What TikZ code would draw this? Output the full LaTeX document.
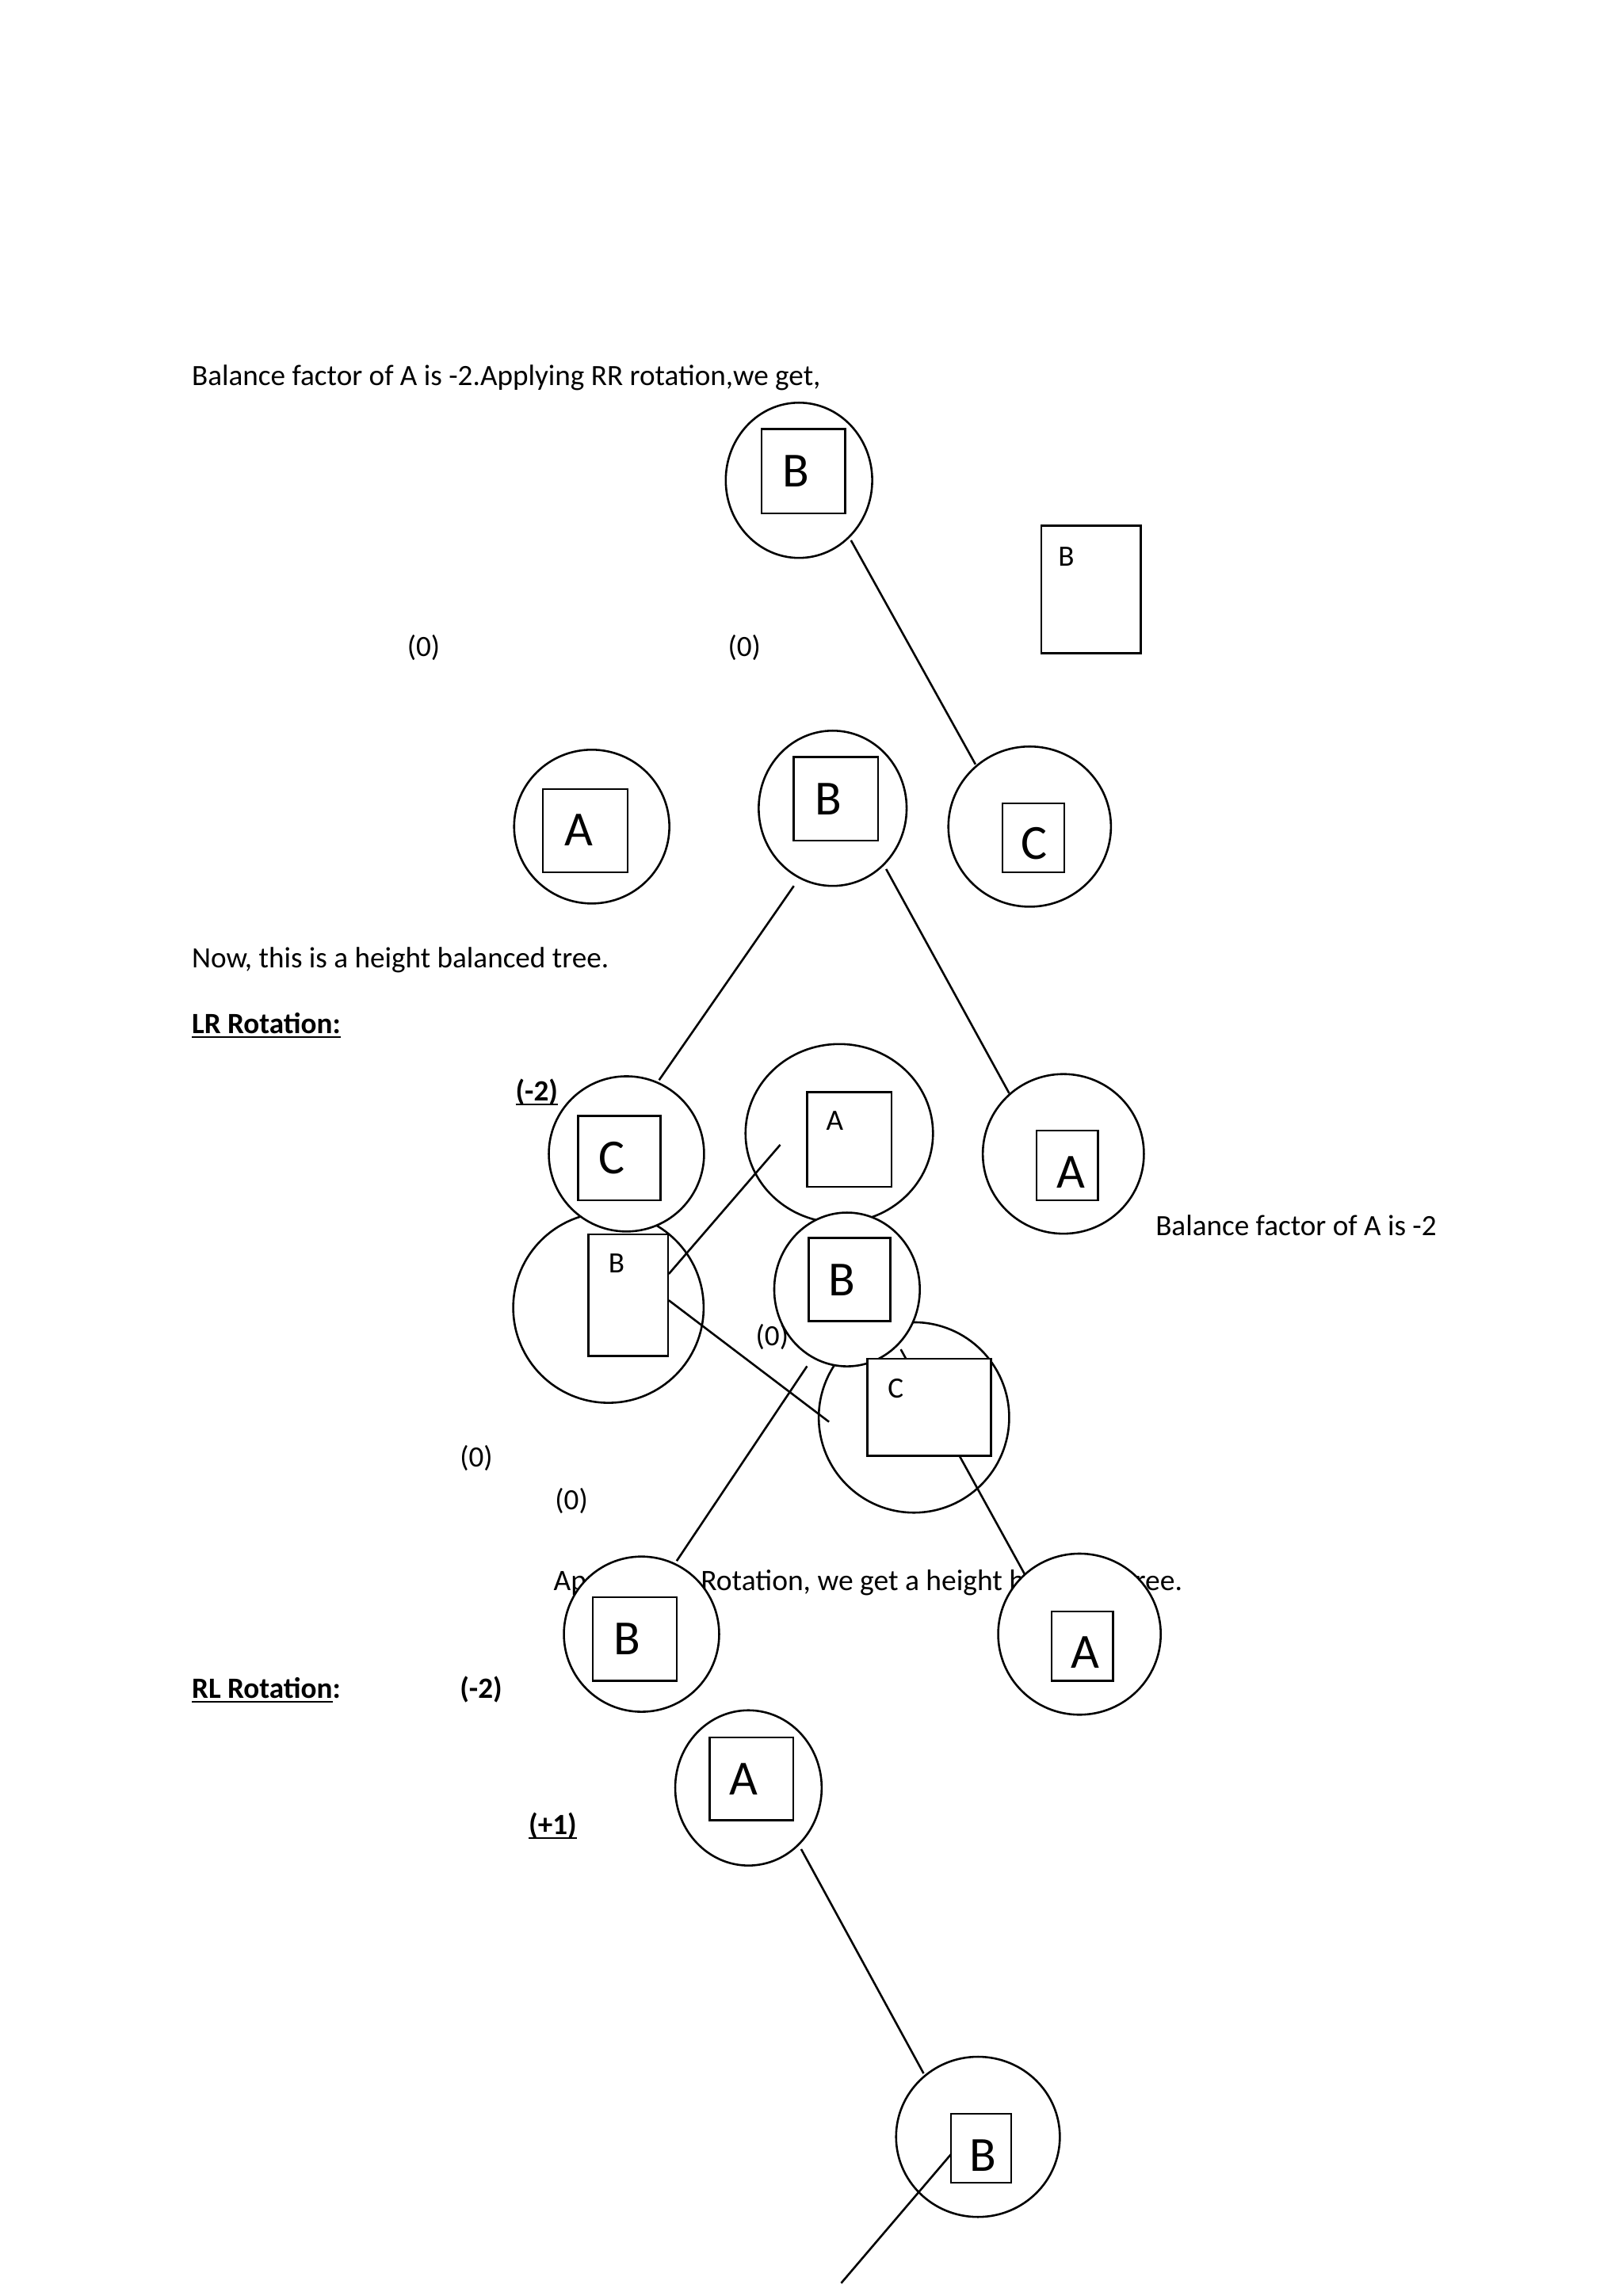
\documentclass[tikz,border=0pt]{standalone}
\usepackage{fontspec}
\setmainfont{Carlito}
\usetikzlibrary{shapes.geometric}
\def\pu{0.53724pt}
\newcommand\ellnode[5]{\node[ell,minimum width={2*#4*\pu},minimum height={2*#5*\pu}] (#1) at (#2,#3) {};}
\newcommand\boxnode[5]{\node[sq,minimum width={(#4-#2)*\pu},minimum height={(#5-#3)*\pu}] (#1) at ({(#2+#4)/2},{(#3+#5)/2}) {};}
\newcommand\wul[1]{\setbox0=\hbox{#1}\rlap{\rule[-1.45pt]{\wd0}{0.65pt}}\box0}
\begin{document}
\begin{tikzpicture}[x=0.53724pt,y=-0.53724pt,
  every node/.style={inner sep=0pt,outer sep=0pt},
  txt/.style={anchor=base west,font=\fontsize{10.8}{13}\selectfont},
  btxt/.style={anchor=base west,font=\fontsize{10.8}{13}\selectfont\bfseries},
  ell/.style={ellipse,draw,fill=white,line width=0.75pt},
  sq/.style={rectangle,draw,fill=white,line width=0.75pt},
  big/.style={font=\fontsize{18}{21}\selectfont},
  small/.style={font=\fontsize{10.8}{13}\selectfont},
  edge/.style={line width=0.75pt}]
\useasboundingbox[fill=white] (0,0) rectangle (1108,1568);

% ---- texts (under the shapes) ----
\node[txt] (t1) at (131,263) {Balance factor of A is -2.Applying RR rotation,we get,};
\node[txt] (t2) at (278,448) {(0)};
\node[txt] (t3) at (497,448) {(0)};
\node[txt] (t4) at (131,661) {Now, this is a height balanced tree.};
\node[btxt] (t5) at (131,706) {\wul{LR Rotation:}};
\node[btxt] (t6) at (352,752) {\wul{(-2)}};
\node[txt] (t7) at (789,844) {Balance factor of A is -2};
\node[txt] (t8) at (516,919) {(0)};
\node[txt] (t9) at (314,1002) {(0)};
\node[txt] (t10) at (379,1031) {(0)};
\node[txt,font=\fontsize{10.9}{13}\selectfont] (t11) at (378,1086) {Applying LR Rotation, we get a height balanced tree.};
\node[btxt] (t12) at (131,1160) {\wul{RL Rotation}:};
\node[btxt] (t13) at (314,1160) {(-2)};
\node[btxt] (t14) at (361,1253) {\wul{(+1)}};

% ---- coordinates for connector ends ----
\coordinate (p1a) at (581,369);   \coordinate (p1b) at (666,522);
\coordinate (p2a) at (542,605);   \coordinate (p2b) at (450,737.6);
\coordinate (p3a) at (605,593.5); \coordinate (p3b) at (689,746.6);
\coordinate (p4a) at (456.6,870); \coordinate (p4b) at (532.7,781.8);
\coordinate (p5a) at (456.6,888); \coordinate (p5b) at (566,971);
\coordinate (p6a) at (615,921.5); \coordinate (p6b) at (701,1077.6);
\coordinate (p7a) at (551,933);   \coordinate (p7b) at (462,1066);
\coordinate (p8a) at (547,1262.8);\coordinate (p8b) at (630.6,1416);
\coordinate (p9a) at (649.2,1471.3); \coordinate (p9b) at (574.3,1559.2);

% ---- first tree ----
\ellnode{e1}{545.5}{328}{50}{53}
\boxnode{s1}{520}{293}{577}{350.6}
\node[big] (l1) at (543.5,321.5) {B};
\boxnode{s0}{711}{359}{779}{446}
\node[small] (l0) at (728,380) {B};
\draw[edge] (p1a) -- (p1b);
\ellnode{e2}{404}{564.5}{53}{52.5}
\boxnode{s2}{370.6}{539}{428.5}{595.7}
\node[big] (l2) at (395,567) {A};
\ellnode{e3}{568.5}{552}{50.5}{53}
\boxnode{s3}{542}{517}{599.5}{574}
\node[big] (l3) at (565.5,545.6) {B};
\ellnode{e4}{703}{564.5}{55.5}{54.7}
\boxnode{s4}{684.5}{548.6}{726.6}{595.7}
\node[big] (l4) at (706,576) {C};
\draw[edge] (p2a) -- (p2b);
\draw[edge] (p3a) -- (p3b);

% ---- LR tree ----
\ellnode{e8}{415.4}{893}{65}{65}
\boxnode{s8}{401.7}{843}{456}{926}
\node[small] (l8) at (421,862.5) {B};
\ellnode{e5}{427.7}{788}{53}{53}
\boxnode{s5}{394.7}{762}{451}{819.6}
\node[big] (l5) at (417.5,791) {C};
\ellnode{e6}{573}{774}{64}{61}
\boxnode{s6}{551}{745.7}{608.7}{810.4}
\node[small] (l6) at (570,765.6) {A};
\ellnode{e7}{726}{788}{55}{54.5}
\boxnode{s7}{707.6}{772}{749.7}{819.6}
\node[big] (l7) at (731,800.7) {A};

\ellnode{e10}{624}{968}{65}{65}
\draw[edge] (p6a) -- (p6b);
\ellnode{e9}{578.3}{880.6}{49.7}{52.5}
\boxnode{s9}{552}{845.4}{608}{902.2}
\node[big] (l9) at (575,874) {B};
\boxnode{s10}{592.3}{928}{676.5}{994.2}
\node[small] (l10) at (611.5,948) {C};
\draw[edge] (p4a) -- (p4b);
\draw[edge] (p5a) -- (p5b);
\draw[edge] (p7a) -- (p7b);

\ellnode{e11}{438}{1116}{53}{53}
\boxnode{s11}{404.7}{1090.7}{462}{1148}
\node[big] (l11) at (428,1119) {B};
\ellnode{e12}{737}{1116}{55.5}{55}
\boxnode{s12}{718}{1100.5}{760}{1148}
\node[big] (l12) at (741,1128.4) {A};

% ---- RL tree ----
\ellnode{e13}{511}{1221}{50}{53}
\boxnode{s13}{484.5}{1186.6}{541.6}{1243.2}
\node[big] (l13) at (508,1215) {A};
\draw[edge] (p8a) -- (p8b);
\ellnode{e14}{667.7}{1459.3}{55.9}{54.7}
\boxnode{s14}{649.2}{1443.5}{690.4}{1490.6}
\node[big] (l14) at (671,1471.8) {B};
\draw[edge] (p9a) -- (p9b);
\end{tikzpicture}
\end{document}
